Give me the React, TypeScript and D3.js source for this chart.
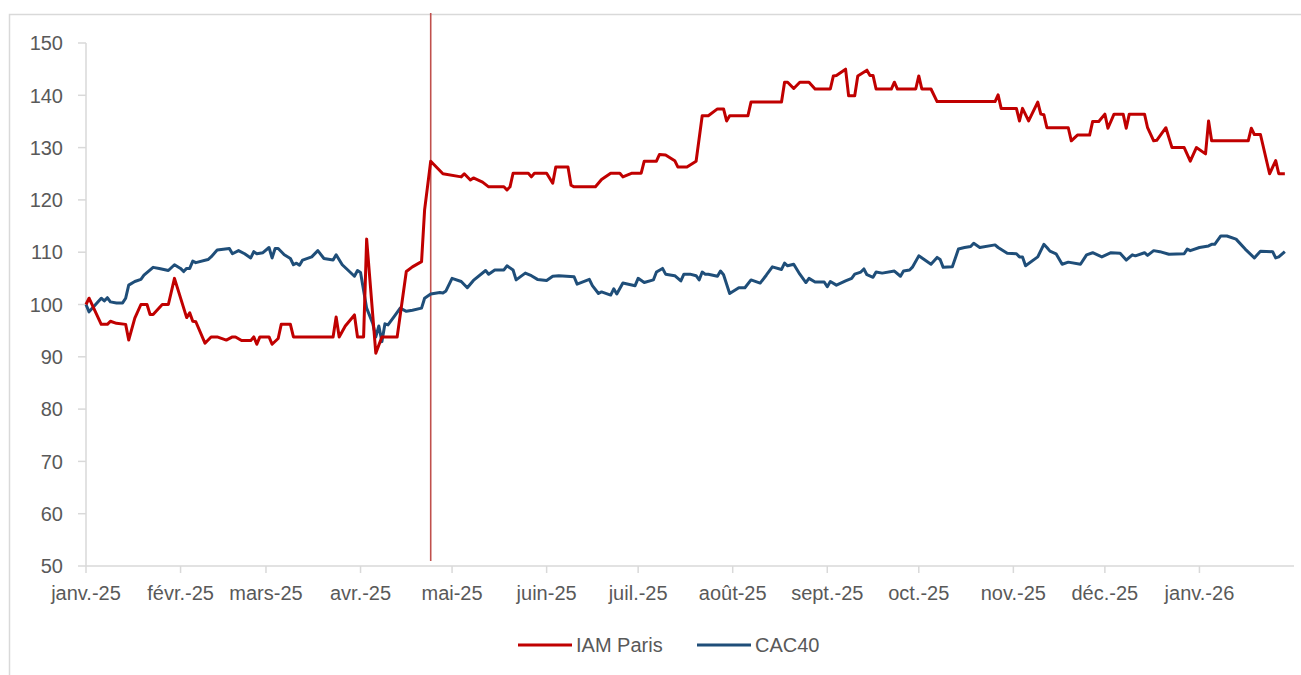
import React, { useRef, useEffect } from "react";
import * as d3 from "d3";

// Indices base 100 au 01/01/2025
const monthLabels = [
  "janv.-25", "févr.-25", "mars-25", "avr.-25", "mai-25", "juin-25", "juil.-25",
  "août-25", "sept.-25", "oct.-25", "nov.-25", "déc.-25", "janv.-26",
];
const yTicks = [50, 60, 70, 80, 90, 100, 110, 120, 130, 140, 150];
const eventDate = "2025-04-24";

const iamDates = [
  "2025-01-01", "2025-01-02", "2025-01-06", "2025-01-08", "2025-01-09", "2025-01-11", "2025-01-14", "2025-01-15",
  "2025-01-17", "2025-01-19", "2025-01-21", "2025-01-22", "2025-01-23", "2025-01-26", "2025-01-28", "2025-01-30",
  "2025-02-03", "2025-02-04", "2025-02-05", "2025-02-06", "2025-02-09", "2025-02-11", "2025-02-13", "2025-02-16",
  "2025-02-18", "2025-02-19", "2025-02-21", "2025-02-24", "2025-02-25", "2025-02-26", "2025-02-27", "2025-03-02",
  "2025-03-03", "2025-03-05", "2025-03-06", "2025-03-09", "2025-03-10", "2025-03-23", "2025-03-24", "2025-03-25",
  "2025-03-27", "2025-03-30", "2025-03-31", "2025-04-02", "2025-04-03", "2025-04-06", "2025-04-08", "2025-04-13",
  "2025-04-16", "2025-04-18", "2025-04-21", "2025-04-22", "2025-04-24", "2025-04-28", "2025-05-04", "2025-05-05",
  "2025-05-07", "2025-05-08", "2025-05-11", "2025-05-13", "2025-05-18", "2025-05-19", "2025-05-20", "2025-05-21",
  "2025-05-26", "2025-05-27", "2025-05-28", "2025-06-01", "2025-06-03", "2025-06-04", "2025-06-08", "2025-06-09",
  "2025-06-10", "2025-06-17", "2025-06-19", "2025-06-22", "2025-06-25", "2025-06-26", "2025-06-29", "2025-07-02",
  "2025-07-03", "2025-07-07", "2025-07-08", "2025-07-10", "2025-07-13", "2025-07-14", "2025-07-17", "2025-07-20",
  "2025-07-22", "2025-07-24", "2025-07-27", "2025-07-29", "2025-07-30", "2025-07-31", "2025-08-06", "2025-08-07",
  "2025-08-17", "2025-08-18", "2025-08-19", "2025-08-21", "2025-08-23", "2025-08-26", "2025-08-28", "2025-09-02",
  "2025-09-03", "2025-09-04", "2025-09-07", "2025-09-08", "2025-09-10", "2025-09-11", "2025-09-14", "2025-09-15",
  "2025-09-16", "2025-09-17", "2025-09-22", "2025-09-23", "2025-09-24", "2025-09-30", "2025-10-01", "2025-10-02",
  "2025-10-05", "2025-10-07", "2025-10-26", "2025-10-27", "2025-10-28", "2025-11-02", "2025-11-03", "2025-11-04",
  "2025-11-06", "2025-11-09", "2025-11-10", "2025-11-11", "2025-11-12", "2025-11-19", "2025-11-20", "2025-11-22",
  "2025-11-26", "2025-11-27", "2025-11-29", "2025-12-01", "2025-12-02", "2025-12-04", "2025-12-07", "2025-12-08",
  "2025-12-09", "2025-12-14", "2025-12-15", "2025-12-17", "2025-12-18", "2025-12-21", "2025-12-23", "2025-12-27",
  "2025-12-29", "2025-12-31", "2026-01-03", "2026-01-04", "2026-01-05", "2026-01-17", "2026-01-18", "2026-01-19",
  "2026-01-21", "2026-01-24", "2026-01-26", "2026-01-27", "2026-01-29",
];
const iamValues = [
  100, 101.2, 96.2, 96.2, 96.8, 96.4, 96.2, 93.2,
  97.4, 100, 100, 98.1, 98.1, 100, 100, 105,
  97.5, 98.4, 96.8, 96.7, 92.6, 93.8, 93.8, 93.2,
  93.8, 93.8, 93.1, 93.1, 93.8, 92.4, 93.8, 93.8,
  92.4, 93.5, 96.2, 96.2, 93.8, 93.8, 97.6, 93.8,
  95.9, 98, 93.8, 93.8, 112.5, 90.7, 93.8, 93.8,
  106.3, 107.2, 108.2, 118.1, 127.4, 125, 124.4, 125,
  123.8, 124.2, 123.4, 122.5, 122.5, 121.9, 122.5, 125.1,
  125.1, 124.4, 125.1, 125.1, 123.2, 126.3, 126.3, 122.8,
  122.5, 122.5, 123.9, 125.1, 125.1, 124.4, 125.1, 125.1,
  127.4, 127.4, 128.7, 128.6, 127.5, 126.3, 126.3, 127.4,
  136.1, 136.1, 137.4, 137.4, 135.1, 136.1, 136.1, 138.7,
  138.7, 142.5, 142.5, 141.3, 142.5, 142.5, 141.2, 141.2,
  143.7, 143.8, 145, 139.9, 139.9, 143.7, 144.8, 143.8,
  143.8, 141.2, 141.2, 142.5, 141.2, 141.2, 143.7, 141.2,
  141.2, 138.8, 138.8, 140.1, 137.5, 137.5, 135.1, 137.5,
  135.1, 138.7, 136.4, 136.3, 133.8, 133.8, 131.3, 132.4,
  132.4, 135, 135, 136.4, 133.7, 136.4, 136.4, 133.7,
  136.4, 136.4, 133.8, 131.3, 131.4, 133.8, 130, 130,
  127.4, 130, 128.8, 135.1, 131.3, 131.3, 133.7, 132.5,
  132.5, 125, 127.5, 125, 125,
];

const cacDates = [
  "2025-01-01", "2025-01-02", "2025-01-04", "2025-01-06", "2025-01-07", "2025-01-08", "2025-01-09", "2025-01-11",
  "2025-01-13", "2025-01-14", "2025-01-15", "2025-01-17", "2025-01-19", "2025-01-20", "2025-01-23", "2025-01-25",
  "2025-01-28", "2025-01-30", "2025-02-01", "2025-02-02", "2025-02-03", "2025-02-04", "2025-02-05", "2025-02-06",
  "2025-02-10", "2025-02-11", "2025-02-13", "2025-02-17", "2025-02-18", "2025-02-20", "2025-02-22", "2025-02-24",
  "2025-02-25", "2025-02-26", "2025-02-28", "2025-03-02", "2025-03-03", "2025-03-04", "2025-03-05", "2025-03-07",
  "2025-03-09", "2025-03-10", "2025-03-11", "2025-03-12", "2025-03-13", "2025-03-16", "2025-03-18", "2025-03-20",
  "2025-03-23", "2025-03-24", "2025-03-26", "2025-03-30", "2025-03-31", "2025-04-01", "2025-04-03", "2025-04-05",
  "2025-04-06", "2025-04-07", "2025-04-08", "2025-04-09", "2025-04-10", "2025-04-12", "2025-04-14", "2025-04-16",
  "2025-04-18", "2025-04-21", "2025-04-22", "2025-04-24", "2025-04-27", "2025-04-28", "2025-04-29", "2025-05-01",
  "2025-05-04", "2025-05-06", "2025-05-08", "2025-05-12", "2025-05-13", "2025-05-15", "2025-05-18", "2025-05-19",
  "2025-05-21", "2025-05-22", "2025-05-25", "2025-05-27", "2025-05-29", "2025-06-01", "2025-06-03", "2025-06-05",
  "2025-06-10", "2025-06-11", "2025-06-15", "2025-06-16", "2025-06-18", "2025-06-19", "2025-06-22", "2025-06-23",
  "2025-06-24", "2025-06-26", "2025-06-30", "2025-07-01", "2025-07-03", "2025-07-06", "2025-07-07", "2025-07-09",
  "2025-07-10", "2025-07-13", "2025-07-15", "2025-07-16", "2025-07-18", "2025-07-20", "2025-07-21", "2025-07-22",
  "2025-07-23", "2025-07-24", "2025-07-27", "2025-07-28", "2025-07-29", "2025-07-31", "2025-08-03", "2025-08-05",
  "2025-08-07", "2025-08-10", "2025-08-12", "2025-08-14", "2025-08-17", "2025-08-18", "2025-08-19", "2025-08-21",
  "2025-08-23", "2025-08-25", "2025-08-26", "2025-08-28", "2025-08-31", "2025-09-01", "2025-09-02", "2025-09-04",
  "2025-09-07", "2025-09-09", "2025-09-10", "2025-09-12", "2025-09-13", "2025-09-14", "2025-09-16", "2025-09-17",
  "2025-09-19", "2025-09-23", "2025-09-25", "2025-09-26", "2025-09-28", "2025-09-29", "2025-10-01", "2025-10-05",
  "2025-10-07", "2025-10-08", "2025-10-09", "2025-10-12", "2025-10-14", "2025-10-16", "2025-10-18", "2025-10-19",
  "2025-10-21", "2025-10-26", "2025-10-27", "2025-10-30", "2025-11-02", "2025-11-03", "2025-11-04", "2025-11-05",
  "2025-11-09", "2025-11-11", "2025-11-12", "2025-11-13", "2025-11-15", "2025-11-17", "2025-11-19", "2025-11-23",
  "2025-11-25", "2025-11-27", "2025-11-30", "2025-12-03", "2025-12-06", "2025-12-08", "2025-12-10", "2025-12-11",
  "2025-12-14", "2025-12-15", "2025-12-17", "2025-12-19", "2025-12-22", "2025-12-27", "2025-12-28", "2025-12-29",
  "2026-01-01", "2026-01-04", "2026-01-05", "2026-01-06", "2026-01-08", "2026-01-10", "2026-01-13", "2026-01-16",
  "2026-01-19", "2026-01-21", "2026-01-25", "2026-01-26", "2026-01-27", "2026-01-29",
];
const cacValues = [
  100, 98.6, 99.9, 101.2, 100.7, 101.3, 100.5, 100.3,
  100.3, 101.2, 103.7, 104.4, 104.8, 105.6, 107.1, 106.9,
  106.5, 107.6, 106.9, 106.3, 106.9, 106.9, 108.3, 108.0,
  108.6, 109.1, 110.4, 110.7, 109.7, 110.3, 109.7, 108.9,
  110.1, 109.7, 109.9, 110.9, 108.9, 110.7, 110.7, 109.5,
  108.8, 107.6, 107.9, 107.5, 108.5, 109.1, 110.3, 108.8,
  108.5, 109.5, 107.6, 105.4, 106.5, 106.1, 99.3, 96.4,
  93.8, 95.9, 92.9, 96.3, 96.1, 97.7, 99.3, 98.7,
  98.9, 99.3, 101.2, 102.0, 102.3, 102.2, 102.6, 105,
  104.4, 103.2, 104.6, 106.5, 105.8, 106.6, 106.6, 107.4,
  106.6, 104.7, 106, 105.5, 104.8, 104.6, 105.4, 105.5,
  105.3, 103.9, 104.8, 103.6, 102.1, 102.4, 101.8, 103.0,
  102.0, 104.1, 103.6, 105, 104.2, 104.7, 106.2, 106.9,
  105.8, 105.5, 104.5, 105.8, 105.8, 105.5, 104.7, 106.2,
  105.8, 105.8, 105.4, 106.4, 105.7, 102.1, 103.2, 103.2,
  104.7, 104.1, 105.6, 107.2, 106.7, 107.9, 107.4, 107.7,
  105.8, 104.2, 105, 104.3, 104.3, 103.4, 104.4, 103.7,
  104.5, 105, 105.8, 106.2, 106.8, 105.7, 105.2, 106.2,
  106, 106.4, 105.4, 106.4, 106.6, 107.2, 109.3, 107.7,
  109, 108.6, 107.1, 107.2, 110.6, 110.9, 111.1, 111.7,
  110.9, 111.4, 110.9, 109.8, 109.7, 109.1, 109.1, 107.4,
  109.1, 111.5, 110.9, 110.2, 109.7, 107.7, 108.1, 107.7,
  109.5, 109.9, 109.1, 109.9, 109.8, 108.5, 109.5, 109.3,
  109.9, 109.4, 110.3, 110.1, 109.6, 109.7, 110.6, 110.3,
  110.9, 111.2, 111.5, 111.5, 113.1, 113.1, 112.5, 110.6,
  108.9, 110.2, 110.1, 108.9, 109.1, 110.1,
];

const IndexChart: React.FC = () => {
  const svgRef = useRef<SVGSVGElement | null>(null);

  useEffect(() => {
    if (!svgRef.current) return;
    const width = 1301;
    const height = 675;
    const parse = d3.timeParse("%Y-%m-%d");
    const font = "'Liberation Sans', Arial, sans-serif";
    const fontSize = 20;
    const textColor = "#595959";
    const axisColor = "#d9d9d9";

    const svg = d3.select(svgRef.current);
    svg.selectAll("*").remove();
    svg.attr("width", width).attr("height", height).style("display", "block");

    svg.append("rect").attr("width", width).attr("height", height).attr("fill", "white");
    // cadre du graphique
    svg.append("rect")
      .attr("x", 9.5).attr("y", 14.5)
      .attr("width", 1330).attr("height", 700)
      .attr("fill", "none").attr("stroke", axisColor).attr("stroke-width", 1.5);

    const start = parse("2025-01-01") as Date;
    const end = parse("2026-02-01") as Date;
    const x = d3.scaleTime().domain([start, end]).range([86, 1294]);
    const y = d3.scaleLinear().domain([50, 150]).range([566, 43]);

    // axe Y
    const gy = svg.append("g");
    gy.append("line")
      .attr("x1", 86).attr("x2", 86).attr("y1", y(150)).attr("y2", y(50))
      .attr("stroke", axisColor).attr("stroke-width", 1.5);
    gy.selectAll(".yt").data(yTicks).enter().append("line")
      .attr("x1", 78).attr("x2", 86)
      .attr("y1", (d) => y(d)).attr("y2", (d) => y(d))
      .attr("stroke", axisColor).attr("stroke-width", 1.5);
    gy.selectAll(".yl").data(yTicks).enter().append("text")
      .attr("x", 63).attr("y", (d) => y(d)).attr("dy", "0.36em")
      .attr("text-anchor", "end")
      .attr("font-family", font).attr("font-size", fontSize).attr("fill", textColor)
      .text((d) => d);

    // axe X
    const months = d3.timeMonth.range(start, end);
    const gx = svg.append("g");
    gx.append("line")
      .attr("x1", x(start)).attr("x2", x(end)).attr("y1", 566).attr("y2", 566)
      .attr("stroke", axisColor).attr("stroke-width", 1.5);
    gx.selectAll(".xt").data(months).enter().append("line")
      .attr("x1", (d) => x(d)).attr("x2", (d) => x(d))
      .attr("y1", 566).attr("y2", 573)
      .attr("stroke", axisColor).attr("stroke-width", 1.5);
    gx.selectAll(".xl").data(months).enter().append("text")
      .attr("x", (d) => x(d)).attr("y", 600)
      .attr("text-anchor", "middle")
      .attr("font-family", font).attr("font-size", fontSize).attr("fill", textColor)
      .text((_, i) => monthLabels[i]);

    // ligne verticale (événement)
    const ev = parse(eventDate) as Date;
    svg.append("line")
      .attr("x1", x(ev)).attr("x2", x(ev)).attr("y1", 13).attr("y2", 561)
      .attr("stroke", "#c0504d").attr("stroke-width", 1.6);

    const line = d3.line<[Date, number]>()
      .x((d) => x(d[0]))
      .y((d) => y(d[1]));

    const iam = iamDates.map((d, i) => [parse(d) as Date, iamValues[i]] as [Date, number]);
    const cac = cacDates.map((d, i) => [parse(d) as Date, cacValues[i]] as [Date, number]);

    svg.append("path").datum(cac)
      .attr("fill", "none").attr("stroke", "#1f4e79").attr("stroke-width", 3)
      .attr("stroke-linejoin", "round").attr("d", line);
    svg.append("path").datum(iam)
      .attr("fill", "none").attr("stroke", "#c00000").attr("stroke-width", 3)
      .attr("stroke-linejoin", "round").attr("d", line);

    // légende
    const legend = [
      { label: "IAM Paris", color: "#c00000", x0: 518 },
      { label: "CAC40", color: "#1f4e79", x0: 697 },
    ];
    const lg = svg.append("g");
    legend.forEach((l) => {
      lg.append("line")
        .attr("x1", l.x0).attr("x2", l.x0 + 54).attr("y1", 645).attr("y2", 645)
        .attr("stroke", l.color).attr("stroke-width", 3);
      lg.append("text")
        .attr("x", l.x0 + 58).attr("y", 645).attr("dy", "0.36em")
        .attr("font-family", font).attr("font-size", fontSize).attr("fill", textColor)
        .text(l.label);
    });
  }, []);

  return <svg ref={svgRef}></svg>;
};

export default function App() {
  return (
    <div style={{ position: "absolute", left: 0, top: 0 }}>
      <IndexChart />
    </div>
  );
}
